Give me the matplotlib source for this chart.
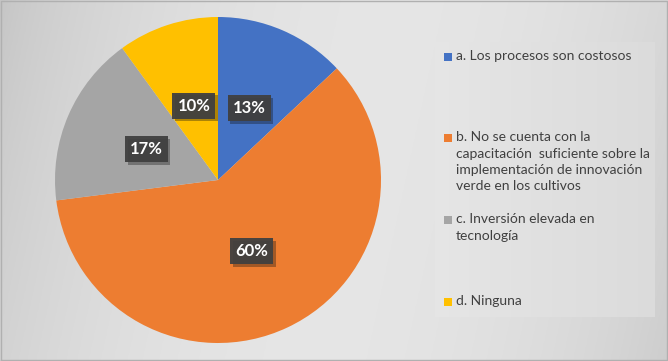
import numpy as np
import matplotlib.pyplot as plt
import matplotlib.patheffects as pe

# data
categories = ['a. Los procesos son costosos',
              'b. No se cuenta con la\ncapacitación  suficiente sobre la\nimplementación de innovación\nverde en los cultivos',
              'c. Inversión elevada en\ntecnología',
              'd. Ninguna']
values = [13, 60, 17, 10]
colors = ['#4472C4', '#ED7D31', '#A5A5A5', '#FFC000']

plt.rcParams['font.family'] = ['Lato', 'DejaVu Sans']

fig = plt.figure(figsize=(6.68, 3.61), dpi=100)

# gradient background
bg = fig.add_axes([0, 0, 1, 1])
grad = np.linspace(0, 1, 256)
xx, yy = np.meshgrid(grad, grad)
g = 0.77 + 0.13 * np.sin(np.pi * np.clip(0.85 * xx + 0.1 * (1 - yy), 0, 1)) ** 0.7
bg.imshow(np.dstack([g, g, g]), extent=[0, 1, 0, 1], aspect='auto', origin='lower')
# legend panel
px0, px1 = 435 / 668, 655 / 668
gx = np.linspace(0, 1, 64)
pg = 0.90 - 0.04 * gx
pg = np.tile(pg, (8, 1))
bg.imshow(np.dstack([pg, pg, pg]), extent=[px0, px1, 1 - 317 / 361, 1 - 42 / 361],
          aspect='auto', origin='lower')
bg.plot([0.002, 0.998, 0.998, 0.002, 0.002], [0.003, 0.003, 0.997, 0.997, 0.003],
        color='#b0b0b0', lw=1)
bg.set_xlim(0, 1)
bg.set_ylim(0, 1)
bg.axis('off')

# pie
ax = fig.add_axes([(218 - 163) / 668, (361 - 180 - 163) / 361, 326 / 668, 326 / 361])
wedges, texts, autotexts = ax.pie(values, colors=colors, startangle=90, counterclock=False,
                                  autopct='%1.0f%%', pctdistance=0.48,
                                  wedgeprops=dict(linewidth=0))
for t in autotexts:
    t.set_color('white')
    t.set_fontweight('bold')
    t.set_fontsize(12)
    t.set_bbox(dict(boxstyle='square,pad=0.3', facecolor='#404040', edgecolor='none', alpha=0.95))
    t.get_bbox_patch().set_path_effects([pe.withSimplePatchShadow(offset=(2, -2), alpha=0.35)])
ax.set_xlim(-1, 1)
ax.set_ylim(-1, 1)
ax.set_aspect('equal')
ax.axis('off')

# legend
ys = [57, 138, 220, 302]
for cat, col, y in zip(categories, colors, ys):
    fig.patches.append(plt.Rectangle((444 / 668, 1 - (y + 4) / 361), 8 / 668, 8 / 361,
                                     transform=fig.transFigure, facecolor=col, edgecolor='none'))
    fig.text(456 / 668, 1 - (y - 7) / 361, cat, fontsize=10, color='#404040',
             va='top', ha='left', linespacing=1.45)

fig.savefig('out.png', dpi=100)
